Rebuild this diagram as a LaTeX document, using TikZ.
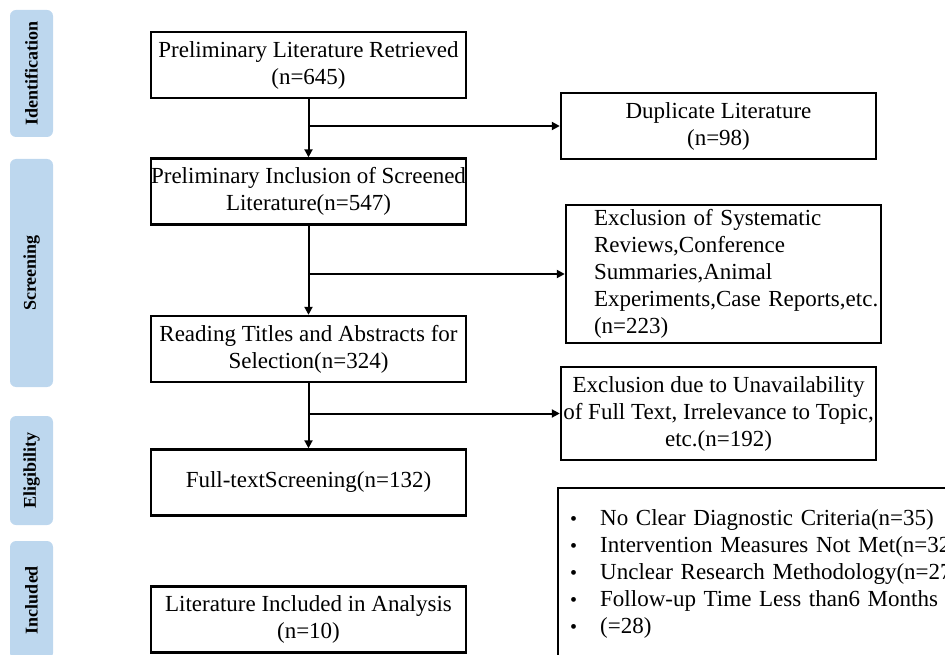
\documentclass[tikz,border=0pt]{standalone}
\usepackage{fontspec}
\setmainfont{Liberation Serif}
\definecolor{stageblue}{RGB}{189,215,238}
\usetikzlibrary{arrows.meta,positioning}

\begin{document}
\begin{tikzpicture}[x=1pt, y=-1pt,
    every node/.style={font=\fontsize{23}{27}\selectfont},
    flowbox/.style={draw, line width=2.4pt, minimum width=315pt, minimum height=66pt, inner sep=0pt, align=center},
    stagebox/.style={fill=stageblue, rounded corners=6pt, rotate=90, minimum height=43pt, inner sep=0pt, font=\fontsize{18}{20}\selectfont\bfseries},
    flowarrow/.style={-{Triangle[length=8pt,width=8pt]}, line width=2pt}]
    \useasboundingbox (0,0) rectangle (945,655);

    % Stage labels
    \node[stagebox, minimum width=127pt] (ident) at (31.5,73.5) {Identification};
    \node[stagebox, minimum width=228pt] (screen) at (31.5,273) {Screening};
    \node[stagebox, minimum width=109pt] (elig) at (31.5,470.5) {Eligibility};
    \node[stagebox, minimum width=118pt] (incl) at (31.5,600) {Included};

    % Main flow
    \node[flowbox] (retrieved) at (308.5,65) {Preliminary Literature Retrieved\\(n=645)};
    \node[flowbox] (prelim) at (308.5,191.5) {Preliminary Inclusion of Screened\\Literature(n=547)};
    \node[flowbox] (titles) at (308.5,349) {Reading Titles and Abstracts for\\Selection(n=324)};
    \node[flowbox] (fulltext) at (308.5,482.5) {Full-textScreening(n=132)};
    \node[flowbox] (analysis) at (308.5,619.5) {Literature Included in Analysis\\(n=10)};

    % Exclusions
    \node[flowbox, minimum height=138pt, text width=259pt, inner xsep=28pt, align=left] (excluded) at (723.5,274) {\mbox{Exclusion of Systematic}\\\mbox{Reviews,Conference}\\\mbox{Summaries,Animal}\\\mbox{Experiments,Case Reports,etc.}\\(n=223)};
    \node[flowbox] (duplicate) at (718.5,126) {Duplicate Literature\\(n=98)};
    \node[flowbox, minimum height=93pt] (unavailable) at (718.5,413.5) {Exclusion due to Unavailability\\of Full Text, Irrelevance to Topic,\\etc.(n=192)};
    \node[draw, line width=2.4pt, anchor=north west, text width=400pt, inner xsep=12pt, inner ysep=21pt, align=left] (criteria) at (557,487) {%
        \makebox[30pt][l]{\fontsize{20}{20}\selectfont\textbullet}\mbox{No Clear Diagnostic Criteria(n=35)}\\
        \makebox[30pt][l]{\fontsize{20}{20}\selectfont\textbullet}\mbox{Intervention Measures Not Met(n=32)}\\
        \makebox[30pt][l]{\fontsize{20}{20}\selectfont\textbullet}\mbox{Unclear Research Methodology(n=27)}\\
        \makebox[30pt][l]{\fontsize{20}{20}\selectfont\textbullet}\mbox{Follow-up Time Less than6 Months}\\
        \makebox[30pt][l]{\fontsize{20}{20}\selectfont\textbullet}(=28)\rule[-20pt]{0pt}{0pt}};

    % Arrows
    \draw[flowarrow] (retrieved) -- (prelim);
    \draw[flowarrow] (prelim) -- (titles);
    \draw[flowarrow] (titles) -- (fulltext);
    \draw[flowarrow] (retrieved.south |- duplicate.west) -- (duplicate);
    \draw[flowarrow] (prelim.south |- excluded.west) -- (excluded);
    \draw[flowarrow] (titles.south |- unavailable.west) -- (unavailable);
\end{tikzpicture}
\end{document}
